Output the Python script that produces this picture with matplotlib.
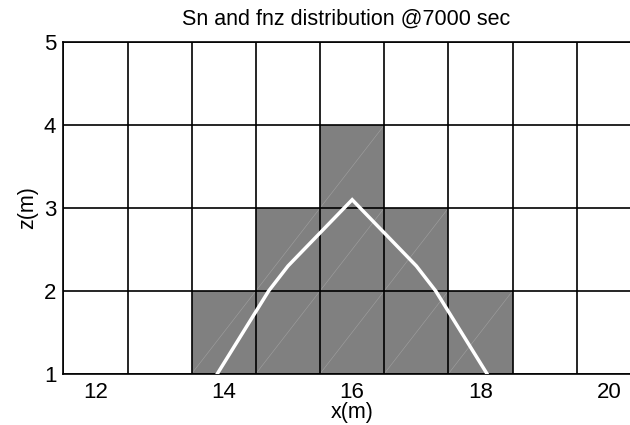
import numpy as np
import matplotlib
matplotlib.use("Agg")
import matplotlib.pyplot as plt

# cell centres (x) and row edges (z)
x_centers = [12, 13, 14, 15, 16, 17, 18, 19, 20]
z_edges = [1, 2, 3, 4, 5]

# Sn cell state per row (bottom row first): 1 = filled
sn_rows = [
    [0, 0, 1, 1, 1, 1, 1, 0, 0],
    [0, 0, 0, 1, 1, 1, 0, 0, 0],
    [0, 0, 0, 0, 1, 0, 0, 0, 0],
    [0, 0, 0, 0, 0, 0, 0, 0, 0],
]

# fnz front line
fnz_x = [13.9, 14.7, 15.0, 16.0, 17.0, 17.3, 18.1]
fnz_z = [1.0, 2.0, 2.3, 3.1, 2.3, 2.0, 1.0]

x_ticks = [12, 14, 16, 18, 20]
z_ticks = [1, 2, 3, 4, 5]

plt.rcParams["font.family"] = ["Liberation Sans", "DejaVu Sans"]

fig = plt.figure(figsize=(6.3, 4.25), dpi=100)
ax = fig.add_axes([0.1005, 0.1207, 0.917, 0.7798])

xc = np.array(x_centers, dtype=float)
x_edges = np.concatenate([xc - 0.5, [xc[-1] + 0.5]])
sn = np.array(sn_rows)

for j in range(sn.shape[0]):
    for i in range(sn.shape[1]):
        x0, x1 = x_edges[i], x_edges[i + 1]
        z0, z1 = z_edges[j], z_edges[j + 1]
        face = "#808080" if sn[j, i] else "white"
        ax.fill([x0, x1, x1, x0], [z0, z0, z1, z1], color=face, lw=0, zorder=1)
        if sn[j, i]:
            # faint triangulation edge of the patch
            ax.plot([x0, x1], [z0, z1], color="#a0a0a0", lw=0.4, zorder=2)

for xe in x_edges:
    ax.axvline(xe, color="black", lw=1.2, zorder=3)
for ze in z_edges:
    ax.axhline(ze, color="black", lw=1.2, zorder=3)

ax.plot(fnz_x, fnz_z, color="white", lw=2.5, zorder=4, solid_joinstyle="miter")

ax.set_xlim(x_edges[0], x_edges[-1])
ax.set_ylim(z_edges[0], z_edges[-1])
ax.set_xticks(x_ticks)
ax.set_yticks(z_ticks)
ax.tick_params(length=0, labelsize=16)
ax.tick_params(axis="x", pad=6)
ax.tick_params(axis="y", pad=5)
for s in ax.spines.values():
    s.set_linewidth(1.2)

ax.set_title("Sn and fnz distribution @7000 sec", fontsize=15.5, pad=13, x=0.49)
ax.set_xlabel("x(m)", fontsize=15.5, labelpad=-1)
ax.set_ylabel("z(m)", fontsize=15.5, labelpad=4)

fig.savefig("out.png", dpi=100)
